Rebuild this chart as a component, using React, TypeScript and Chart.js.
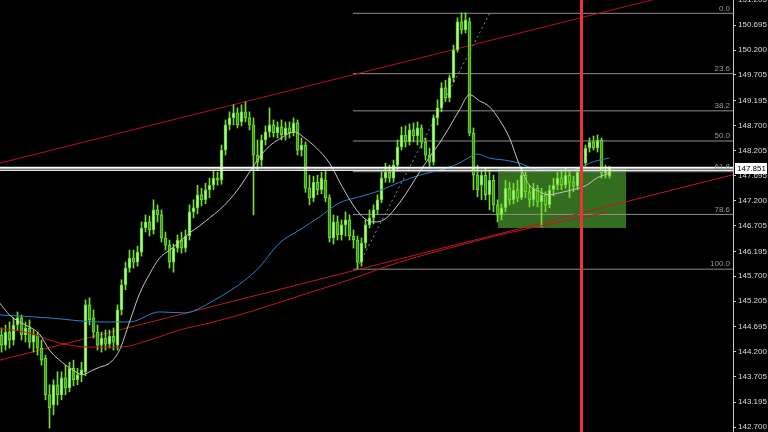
import React, { useEffect, useRef } from "react";
import { Chart, registerables } from "chart.js";
Chart.register(...registerables);

// ---- candles (one per bar index) ----
const OPEN = [
  144.53, 144.33, 144.59, 144.43, 144.73, 144.87, 144.53, 144.67, 144.39, 144.53,
  144.27, 144.07, 143.34, 143.14, 143.54, 143.34, 143.68, 143.48, 143.87, 143.64,
  143.74, 143.80, 145.13, 144.87, 144.59, 144.33, 144.47, 144.35, 144.51, 144.33,
  145.03, 145.53, 145.86, 146.06, 145.98, 146.18, 146.66, 146.78, 146.62, 147.02,
  146.92, 146.46, 146.32, 145.98, 146.26, 146.42, 146.26, 146.50, 146.98, 147.06,
  147.32, 147.22, 147.42, 147.51, 147.65, 147.61, 148.21, 148.71, 148.85, 148.95,
  148.77, 148.97, 148.85, 148.71, 148.11, 148.01, 148.41, 148.57, 148.71, 148.55,
  148.67, 148.51, 148.65, 148.55, 148.75, 148.21, 148.31, 147.45, 147.26, 147.57,
  147.42, 147.61, 147.26, 146.46, 146.78, 146.52, 146.72, 146.82, 146.50, 146.42,
  145.98, 146.36, 146.72, 146.86, 147.02, 147.22, 147.65, 147.77, 147.65, 147.91,
  148.27, 148.51, 148.37, 148.61, 148.49, 148.65, 148.37, 148.11, 147.97, 148.85,
  149.05, 149.45, 149.25, 149.65, 150.20, 150.76, 150.60, 150.76, 148.55, 147.71,
  147.51, 147.71, 147.32, 147.61, 147.12, 146.92, 147.06, 147.45, 147.22, 147.42,
  147.26, 147.71, 147.38, 147.22, 147.45, 147.18, 147.32, 147.12, 147.42, 147.51,
  147.65, 147.51, 147.71, 147.57, 147.49, 147.77, 147.95, 148.25, 148.37, 148.25,
  148.41, 147.75, 147.69,
];
const HIGH = [
  144.67, 144.73, 144.79, 144.87, 144.99, 144.93, 144.79, 144.83, 144.63, 144.59,
  144.43, 144.13, 143.54, 143.64, 143.80, 143.80, 143.93, 143.99, 144.03, 143.87,
  143.99, 145.23, 145.27, 145.03, 144.73, 144.59, 144.63, 144.63, 144.67, 145.13,
  145.63, 145.98, 146.22, 146.22, 146.30, 146.78, 146.92, 146.90, 147.22, 147.12,
  147.02, 146.58, 146.42, 146.34, 146.52, 146.58, 146.62, 147.12, 147.22, 147.51,
  147.45, 147.55, 147.65, 147.81, 147.77, 148.31, 148.81, 148.97, 149.11, 149.05,
  149.11, 149.17, 148.97, 148.85, 148.41, 148.51, 148.69, 149.05, 148.81, 148.77,
  148.81, 148.77, 148.77, 148.85, 148.81, 148.45, 148.37, 147.71, 147.69, 147.71,
  147.77, 147.81, 147.32, 146.92, 146.90, 146.82, 146.98, 146.92, 146.62, 146.50,
  146.46, 146.82, 147.02, 147.12, 147.32, 147.77, 147.95, 147.91, 148.01, 148.41,
  148.67, 148.69, 148.73, 148.75, 148.77, 148.71, 148.45, 148.25, 148.91, 149.21,
  149.55, 149.60, 149.70, 150.30, 150.84, 150.94, 150.94, 150.84, 148.65, 147.91,
  147.81, 147.85, 147.81, 147.71, 147.22, 147.14, 147.61, 147.57, 147.55, 147.61,
  147.85, 147.77, 147.51, 147.55, 147.51, 147.45, 147.38, 147.51, 147.65, 147.77,
  147.81, 147.85, 147.81, 147.69, 147.85, 148.01, 148.31, 148.45, 148.49, 148.51,
  148.45, 147.91, 147.89,
];
const LOW = [
  144.19, 144.23, 144.27, 144.33, 144.63, 144.43, 144.39, 144.27, 144.19, 144.13,
  143.93, 143.24, 142.68, 142.94, 143.14, 143.24, 143.34, 143.40, 143.52, 143.54,
  143.60, 143.72, 144.73, 144.47, 144.23, 144.19, 144.23, 144.27, 144.23, 144.23,
  144.93, 145.43, 145.78, 145.86, 145.90, 146.10, 146.58, 146.50, 146.54, 146.78,
  146.38, 146.22, 145.86, 145.78, 146.18, 146.16, 146.18, 146.42, 146.86, 146.94,
  147.10, 147.14, 147.26, 147.42, 147.51, 147.53, 148.11, 148.61, 148.71, 148.65,
  148.69, 148.77, 148.61, 146.92, 147.81, 147.89, 148.31, 148.47, 148.47, 148.45,
  148.41, 148.41, 148.45, 148.49, 148.11, 148.09, 147.37, 147.12, 147.18, 147.32,
  147.34, 147.18, 146.38, 146.34, 146.42, 146.42, 146.50, 146.42, 146.26, 145.84,
  145.90, 146.26, 146.66, 146.74, 146.94, 147.16, 147.57, 147.57, 147.57, 147.81,
  148.21, 148.27, 148.31, 148.37, 148.31, 148.25, 148.01, 147.85, 147.91, 148.71,
  148.97, 149.17, 149.17, 149.56, 150.16, 150.52, 150.54, 148.49, 147.42, 147.28,
  147.22, 147.22, 147.02, 146.98, 146.78, 146.82, 146.98, 147.12, 147.14, 147.18,
  147.22, 147.26, 147.08, 147.10, 147.08, 146.68, 146.98, 147.06, 147.30, 147.42,
  147.42, 147.45, 147.26, 147.38, 147.42, 147.73, 147.89, 148.17, 148.21, 148.17,
  147.65, 147.65, 147.65,
];
const CLOSE = [
  144.33, 144.59, 144.43, 144.73, 144.87, 144.53, 144.67, 144.39, 144.53, 144.27,
  144.03, 143.34, 143.08, 143.54, 143.34, 143.68, 143.48, 143.87, 143.64, 143.74,
  143.84, 145.13, 144.83, 144.59, 144.33, 144.47, 144.35, 144.51, 144.39, 145.03,
  145.53, 145.86, 146.06, 145.98, 146.18, 146.66, 146.78, 146.62, 147.02, 146.92,
  146.46, 146.32, 145.98, 146.26, 146.42, 146.26, 146.50, 146.98, 147.06, 147.32,
  147.22, 147.42, 147.51, 147.65, 147.61, 148.21, 148.71, 148.85, 148.95, 148.71,
  148.97, 148.85, 148.71, 148.11, 147.97, 148.41, 148.57, 148.71, 148.55, 148.67,
  148.51, 148.65, 148.55, 148.75, 148.21, 148.31, 147.45, 147.26, 147.57, 147.42,
  147.65, 147.26, 146.46, 146.78, 146.52, 146.72, 146.82, 146.50, 146.42, 145.98,
  146.36, 146.72, 146.86, 147.02, 147.22, 147.65, 147.77, 147.65, 147.91, 148.27,
  148.51, 148.37, 148.61, 148.49, 148.65, 148.37, 148.11, 147.97, 148.85, 149.05,
  149.45, 149.25, 149.65, 150.20, 150.76, 150.60, 150.80, 148.55, 147.71, 147.42,
  147.71, 147.32, 147.61, 147.12, 146.92, 147.06, 147.45, 147.22, 147.42, 147.26,
  147.71, 147.38, 147.22, 147.45, 147.18, 147.32, 147.12, 147.42, 147.51, 147.65,
  147.51, 147.71, 147.57, 147.49, 147.77, 147.95, 148.25, 148.37, 148.25, 148.41,
  147.75, 147.81, 147.85,
];

// ---- moving averages ----
const MA_FAST_X = [-0.5, 2, 4.5, 7, 9.5, 12, 14.5, 17.75, 20.25, 22.5, 24.5, 27, 29.5, 32, 34.5, 37, 39.5, 42, 44.5, 47, 49.5, 52, 54.5, 57, 59.5, 62, 64.5, 67, 69.5, 73.25, 75.75, 78.75, 82, 85.25, 88.75, 91.25, 93.75, 96.25, 99.5, 102, 104.5, 107, 109.5, 112, 114.5, 117, 119.5, 122, 124.5, 127, 129.5, 132, 134.5, 137, 139.5, 142.75, 146.25, 148.75, 152];
const MA_FAST_Y = [145.17, 144.93, 144.79, 144.69, 144.55, 144.23, 144.03, 143.84, 143.74, 143.82, 143.89, 143.97, 144.23, 144.79, 145.35, 145.74, 146.06, 146.22, 146.38, 146.56, 146.70, 146.86, 147.02, 147.22, 147.47, 147.77, 148.07, 148.29, 148.43, 148.57, 148.45, 148.25, 147.95, 147.47, 147.02, 146.82, 146.78, 146.86, 147.16, 147.45, 147.77, 148.07, 148.35, 148.67, 149.01, 149.31, 149.19, 149.07, 148.81, 148.45, 147.91, 147.51, 147.38, 147.32, 147.36, 147.42, 147.51, 147.65, 147.75];

const MA_MID_X = [-0.5, 12, 24.5, 32, 39.5, 45.75, 52, 63.75, 69.5, 74.5, 79.5, 84.5, 89.5, 94.5, 99.5, 104.5, 109.5, 114.5, 117, 119, 122, 125.75, 129.5, 132.75, 137, 142, 144.5, 147, 149.5, 152];
const MA_MID_Y = [144.93, 144.87, 144.79, 144.79, 144.99, 144.97, 145.17, 145.82, 146.36, 146.62, 146.88, 147.16, 147.28, 147.40, 147.57, 147.71, 147.81, 147.95, 148.07, 148.13, 148.05, 148.01, 147.95, 147.85, 147.81, 147.81, 147.85, 147.95, 148.01, 148.05];

const MA_SLOW_X = [-0.5, 7, 14.5, 22, 29.5, 37, 44.5, 52, 62, 74.5, 87, 99.5, 112, 124.5, 137, 152];
const MA_SLOW_Y = [144.67, 144.57, 144.37, 144.29, 144.29, 144.43, 144.63, 144.77, 144.99, 145.31, 145.63, 145.98, 146.26, 146.52, 146.74, 146.98];

// ---- drawn objects ----
const TREND_UP_X = [-0.375, 182.875];
const TREND_UP_Y = [147.95, 151.6];
const TREND_LOW_X = [-0.375, 182.875];
const TREND_LOW_Y = [144.03, 147.72];
const FIB_TREND_X = [88.875, 122.125];
const FIB_TREND_Y = [145.86, 150.94];
const FIB_LEVELS = [150.93, 149.73, 148.99, 148.39, 147.78, 146.93, 145.84];
const FIB_LABELS = ["0.0", "23.6", "38.2", "50.0", "61.8", "78.6", "100.0"];
const FIB_START_X = 87.875;
const H_LINES = [147.86, 147.81];
const BID_PRICE = 147.851;
const V_LINE_X = 145;
const BOX_X = [124.125, 156.125];
const BOX_Y = [146.66, 147.83];

const Y_TICKS = [151.205, 150.695, 150.2, 149.705, 149.195, 148.7, 148.205, 147.695, 147.2, 146.705, 146.195, 145.7, 145.205, 144.695, 144.2, 143.705, 143.195, 142.7];
const Y_MIN = 142.601;
const Y_MAX = 151.195;
const X_MIN = -0.375;
const X_MAX = 182.875;

const FONT = "'Liberation Sans', Arial, sans-serif";
const pts = (xs: number[], ys: number[]) => xs.map((x, i) => ({ x, y: ys[i] }));

export default function App() {
  const ref = useRef<HTMLCanvasElement | null>(null);
  useEffect(() => {
    if (!ref.current) return;
    const bull = CLOSE.map((c, i) => c >= OPEN[i]);
    const lineBase = { type: "line" as const, pointRadius: 0, borderWidth: 1, fill: false };

    const datasets: any[] = [];
    FIB_LEVELS.forEach((lv) => {
      datasets.push({ ...lineBase, data: [{ x: FIB_START_X, y: lv }, { x: X_MAX, y: lv }], borderColor: "#8e8e8e", order: 20 });
    });
    datasets.push({ ...lineBase, data: pts(FIB_TREND_X, FIB_TREND_Y), borderColor: "#8a8a8a", borderDash: [2, 3], order: 20 });
    datasets.push({ ...lineBase, data: pts(TREND_UP_X, TREND_UP_Y), borderColor: "#b3141a", order: 19 });
    datasets.push({ ...lineBase, data: pts(TREND_LOW_X, TREND_LOW_Y), borderColor: "#c0181e", order: 19 });
    datasets.push({
      type: "bar", data: HIGH.map((h, i) => ({ x: i, y: [LOW[i], h] })), backgroundColor: "#74dc34",
      barThickness: 1, grouped: false, borderWidth: 0, order: 12,
    });
    datasets.push({
      type: "bar", data: OPEN.map((o, i) => ({ x: i, y: [o, CLOSE[i]] })),
      backgroundColor: bull.map((b) => (b ? "#b2f58a" : "#3e9a16")),
      borderColor: bull.map((b) => (b ? "#62d226" : "#72de30")),
      borderWidth: 1, borderSkipped: false, barThickness: 3, grouped: false, order: 11,
    });
    datasets.push({ ...lineBase, data: pts(MA_SLOW_X, MA_SLOW_Y), borderColor: "#c0181e", cubicInterpolationMode: "monotone", order: 8 });
    datasets.push({ ...lineBase, data: pts(MA_MID_X, MA_MID_Y), borderColor: "#2a82c4", cubicInterpolationMode: "monotone", order: 7 });
    datasets.push({ ...lineBase, data: pts(MA_FAST_X, MA_FAST_Y), borderColor: "#c4c4c4", cubicInterpolationMode: "monotone", order: 6 });
    datasets.push({ ...lineBase, data: [{ x: X_MIN, y: H_LINES[0] }, { x: X_MAX, y: H_LINES[0] }], borderColor: "#ffffff", borderWidth: 2, order: 3 });
    datasets.push({ ...lineBase, data: [{ x: X_MIN, y: H_LINES[1] }, { x: X_MAX, y: H_LINES[1] }], borderColor: "#e6e6e6", borderWidth: 1.5, order: 3 });
    datasets.push({ ...lineBase, data: [{ x: V_LINE_X, y: Y_MIN }, { x: V_LINE_X, y: Y_MAX }], borderColor: "#ee3333", borderWidth: 3, order: 1 });

    const boxPlugin = {
      id: "box",
      beforeDatasetsDraw(chart: any) {
        const { ctx, scales } = chart;
        const x0 = scales.x.getPixelForValue(BOX_X[0]);
        const x1 = scales.x.getPixelForValue(BOX_X[1]);
        const y0 = scales.y.getPixelForValue(BOX_Y[1]);
        const y1 = scales.y.getPixelForValue(BOX_Y[0]);
        ctx.save();
        ctx.fillStyle = "#336d1f";
        ctx.fillRect(x0, y0, x1 - x0, y1 - y0);
        ctx.restore();
      },
    };
    const labelPlugin = {
      id: "labels",
      afterDatasetsDraw(chart: any) {
        const { ctx, scales, chartArea } = chart;
        ctx.save();
        ctx.font = `8px ${FONT}`;
        ctx.fillStyle = "#9a9a9a";
        ctx.textAlign = "right";
        ctx.textBaseline = "bottom";
        FIB_LEVELS.forEach((lv, i) => {
          const y = scales.y.getPixelForValue(lv);
          ctx.fillText(FIB_LABELS[i], chartArea.right - 3, y - 1);
        });
        ctx.restore();
      },
      afterDraw(chart: any) {
        const { ctx, scales, chartArea } = chart;
        const y = Math.round(scales.y.getPixelForValue(BID_PRICE));
        ctx.save();
        ctx.fillStyle = "#ffffff";
        ctx.fillRect(chartArea.right + 2, y - 5, 32, 11);
        ctx.fillStyle = "#000000";
        ctx.font = `8px ${FONT}`;
        ctx.textAlign = "left";
        ctx.textBaseline = "middle";
        ctx.fillText(BID_PRICE.toFixed(3), chartArea.right + 4, y + 0.5);
        ctx.restore();
      },
    };

    const chart = new Chart(ref.current, {
      data: { datasets },
      options: {
        responsive: false,
        animation: false,
        events: [],
        layout: { padding: 0 },
        plugins: { legend: { display: false }, tooltip: { enabled: false } },
        scales: {
          x: { type: "linear", min: X_MIN, max: X_MAX, display: false, offset: false },
          y: {
            type: "linear",
            position: "right",
            min: Y_MIN,
            max: Y_MAX,
            afterBuildTicks: (s: any) => { s.ticks = Y_TICKS.map((v) => ({ value: v })); },
            afterFit: (s: any) => { s.width = 35; s.paddingTop = 0; s.paddingBottom = 0; },
            border: { color: "#c8c8c8", width: 1 },
            grid: { drawOnChartArea: false, drawTicks: true, tickLength: 3, tickColor: "#c8c8c8" },
            ticks: {
              autoSkip: false,
              padding: 2,
              color: "#dcdcdc",
              font: { family: FONT, size: 8 },
              callback: (v: any) => Number(v).toFixed(3),
            },
          },
        },
      } as any,
      plugins: [boxPlugin, labelPlugin],
    } as any);
    return () => chart.destroy();
  }, []);

  return (
    <div style={{ position: "absolute", left: 0, top: 0, width: 768, height: 432, background: "#000" }}>
      <canvas ref={ref} width={768} height={432} style={{ display: "block" }} />
    </div>
  );
}
